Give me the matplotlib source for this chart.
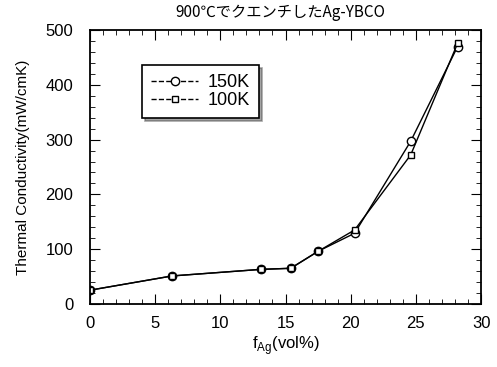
import matplotlib.pyplot as plt
from matplotlib.ticker import MultipleLocator

plt.rcParams['font.family'] = ['Liberation Sans', 'Noto Sans CJK JP', 'DejaVu Sans']

f_ag = [0, 6.3, 13.1, 15.4, 17.5, 20.3, 24.6, 28.2]
k_150 = [25, 51, 63, 65, 96, 129, 297, 470]
k_100 = [25, 51, 63, 65, 96, 135, 272, 476]

fig = plt.figure(figsize=(4.97, 3.67), dpi=100)
ax = fig.add_axes([0.181, 0.172, 0.787, 0.746])

ax.plot(f_ag, k_150, '-', color='black', lw=1.0, marker='o', ms=6,
        mfc='white', mec='black', mew=1.0, label='150K')
ax.plot(f_ag, k_100, '-', color='black', lw=1.0, marker='s', ms=4.5,
        mfc='white', mec='black', mew=1.0, label='100K')

ax.set_xlim(0, 30)
ax.set_ylim(0, 500)
ax.xaxis.set_major_locator(MultipleLocator(5))
ax.xaxis.set_minor_locator(MultipleLocator(1))
ax.yaxis.set_major_locator(MultipleLocator(100))
ax.yaxis.set_minor_locator(MultipleLocator(20))
ax.tick_params(which='both', direction='in', top=True, right=True, labelsize=12)
ax.tick_params(which='major', length=7)
ax.tick_params(axis='y', which='major', pad=12)
ax.tick_params(axis='x', which='major', pad=9)
ax.tick_params(which='minor', length=3.5)
for s in ax.spines.values():
    s.set_linewidth(1.3)

ax.set_xlabel('f$_{\\mathregular{Ag}}$(vol%)', fontsize=12, labelpad=2)
ax.set_ylabel('Thermal Conductivity(mW/cmK)', fontsize=11, labelpad=11)
fig.text(0.565, 0.965, '900℃でクエンチしたAg-YBCO', ha='center', va='center',
         fontsize=11, family=['Noto Sans CJK JP', 'DejaVu Sans'])

leg = ax.legend(loc='upper left', bbox_to_anchor=(0.125, 0.885), fontsize=13,
                frameon=True, fancybox=False, shadow=True, edgecolor='black',
                handlelength=2.6, handletextpad=0.5, borderpad=0.5,
                labelspacing=0.05, borderaxespad=0.2)
leg.get_frame().set_linewidth(1.2)
for h in leg.get_lines():
    h.set_linestyle('--')

fig.savefig('out.png', dpi=100)
